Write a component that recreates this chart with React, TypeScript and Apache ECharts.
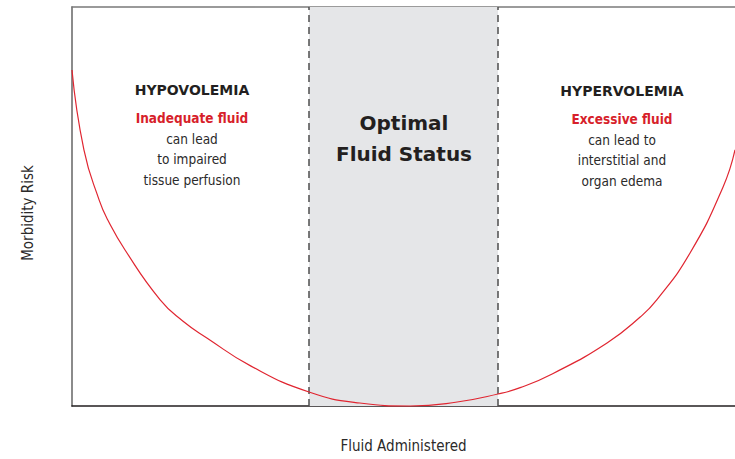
import React, { useEffect, useRef } from "react";
import * as echarts from "echarts";

// Fluid administered (0-100, relative) vs morbidity risk (0-100, relative)
const riskX = [0, 1.8, 4.1, 5.4, 8.0, 13.3, 16.7, 20.4, 27.0, 35.75, 43.4, 51.0, 58.1, 64.25, 67.6, 72.5, 80.7, 85.7, 88.2, 93.2, 98.2, 100];
const riskY = [84.2, 64.2, 51.6, 46.6, 39.1, 26.6, 21.3, 17.0, 10.0, 3.5, 0.75, 0, 1.0, 3.0, 4.6, 8.1, 15.8, 22.3, 26.6, 38.3, 54.9, 64.2];
const optimalRange = [35.75, 64.25];

const leftTitle = "HYPOVOLEMIA";
const leftLead = "Inadequate fluid";
const leftBody = ["can lead", "to impaired", "tissue perfusion"];
const rightTitle = "HYPERVOLEMIA";
const rightLead = "Excessive fluid";
const rightBody = ["can lead to", "interstitial and", "organ edema"];
const centerLines = ["Optimal", "Fluid Status"];
const xName = "Fluid Administered";
const yName = "Morbidity Risk";

const RED = "#d71f2b";
const DARK = "#231f20";
const BODY = "#2b2a2a";
const COND = "'DejaVu Sans Condensed', 'DejaVu Sans', sans-serif";
const BOLD = "'DejaVu Sans', sans-serif";

export default function App() {
  const ref = useRef<HTMLDivElement>(null);
  useEffect(() => {
    if (!ref.current) return;
    const chart = echarts.init(ref.current, null, { renderer: "svg" });
    const block = (cx: number, ty: number, title: string, lead: string, body: string[]) => [
      {
        type: "text",
        x: cx,
        y: ty,
        z: 100,
        style: {
          text: title,
          fill: DARK,
          font: `bold 14px ${BOLD}`,
          align: "center",
          verticalAlign: "middle",
        },
      },
      {
        type: "text",
        x: cx,
        y: ty + 28 - 10.3,
        z: 100,
        style: {
          text: [`{r|${lead}}`, ...body.map((b) => `{b|${b}}`)].join("\n"),
          align: "center",
          verticalAlign: "top",
          rich: {
            r: { fill: RED, fontWeight: "bold", fontSize: 13.5, fontFamily: COND, lineHeight: 20.6, align: "center" },
            b: { fill: BODY, fontSize: 13.5, fontFamily: COND, lineHeight: 20.6, align: "center" },
          },
        },
      },
    ];
    chart.setOption({
      animation: false,
      grid: { left: 72, right: 0, top: 7, bottom: 53, containLabel: false },
      xAxis: [
        {
          type: "value",
          min: 0,
          max: 100,
          position: "bottom",
          axisLine: { show: true, onZero: false, lineStyle: { color: DARK, width: 1.6 } },
          axisTick: { show: false },
          axisLabel: { show: false },
          splitLine: { show: false },
          name: xName,
          nameLocation: "middle",
          nameGap: 32,
          nameTextStyle: { color: BODY, fontSize: 15, fontFamily: COND },
        },
        {
          type: "value",
          min: 0,
          max: 100,
          position: "top",
          axisLine: { show: true, onZero: false, lineStyle: { color: "#7a7a7a", width: 1.6 } },
          axisTick: { show: false },
          axisLabel: { show: false },
          splitLine: { show: false },
        },
      ],
      yAxis: {
        type: "value",
        min: 0,
        max: 100,
        axisLine: { show: true, onZero: false, lineStyle: { color: "#6e6e6e", width: 1.6 } },
        axisTick: { show: false },
        axisLabel: { show: false },
        splitLine: { show: false },
      },
      series: [
        {
          type: "line",
          data: riskX.map((x, i) => [x, riskY[i]]),
          smooth: 0.5,
          showSymbol: false,
          symbol: "none",
          clip: false,
          lineStyle: { color: "#e02530", width: 1.2 },
          z: 5,
          markArea: {
            silent: true,
            itemStyle: { color: "#e5e6e8" },
            data: [[{ xAxis: optimalRange[0] }, { xAxis: optimalRange[1] }]],
          },
          markLine: {
            silent: true,
            symbol: "none",
            label: { show: false },
            lineStyle: { color: "#4d4d4d", type: [7, 5], width: 1.5 },
            data: optimalRange.map((v) => ({ xAxis: v })),
          },
        },
      ],
      graphic: [
        ...block(192, 90, leftTitle, leftLead, leftBody),
        ...block(622, 91, rightTitle, rightLead, rightBody),
        {
          type: "text",
          x: 404,
          y: 138,
          z: 100,
          style: {
            text: centerLines.join("\n"),
            fill: DARK,
            font: `bold 20px ${BOLD}`,
            lineHeight: 31,
            align: "center",
            verticalAlign: "middle",
          },
        },
        {
          type: "text",
          x: 28,
          y: 213,
          z: 100,
          rotation: Math.PI / 2,
          style: {
            text: yName,
            fill: BODY,
            font: `15px ${COND}`,
            align: "center",
            verticalAlign: "middle",
          },
        },
      ],
    });
    return () => chart.dispose();
  }, []);
  return (
    <div
      ref={ref}
      style={{ position: "absolute", left: 0, top: 0, width: 735, height: 459, background: "#fff" }}
    />
  );
}
